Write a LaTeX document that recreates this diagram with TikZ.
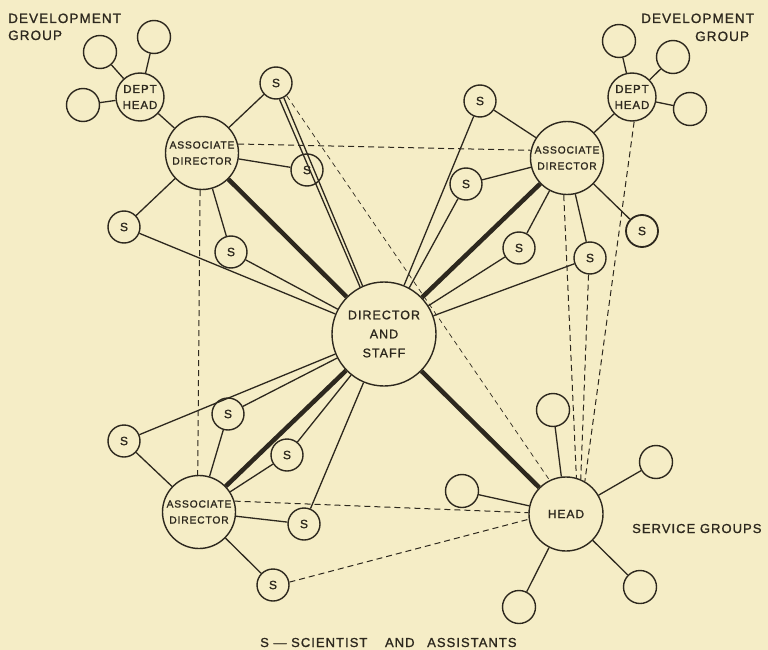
\documentclass[tikz,border=0pt]{standalone}
\usepackage{fontspec}
\setmainfont{Liberation Sans}
\newfontfamily\lab[LetterSpace=8,FakeBold=1.2]{Liberation Sans}
\definecolor{bg}{RGB}{245,237,198}
\definecolor{ink}{RGB}{45,40,30}
\begin{document}
\begin{tikzpicture}[x=1pt,y=-1pt,
  every node/.style={text=ink},
  circ/.style={circle,draw=ink,line width=1.4pt,inner sep=0pt,align=center},
  dirnode/.style={circ,minimum size=104pt,font=\lab\fontsize{12.5}{19}\selectfont},
  adnode/.style={circ,minimum size=73pt,font=\lab\fontsize{10.3}{16}\selectfont},
  hdnode/.style={circ,minimum size=74pt,font=\lab\fontsize{12}{14}\selectfont},
  dhnode/.style={circ,minimum size=48pt,font=\lab\fontsize{11.5}{16}\selectfont},
  snode/.style={circ,minimum size=32pt,font=\lab\fontsize{12}{14}\selectfont},
  emnode/.style={circ,minimum size=33pt},
  lbl/.style={font=\lab\fontsize{13.5}{16}\selectfont,inner sep=0pt},
  ln/.style={draw=ink,line width=1.3pt},
  thk/.style={draw=ink,line width=4.5pt},
  dsh/.style={draw=ink,line width=1pt,dash pattern=on 6pt off 4pt},
  tdsh/.style={draw=ink,line width=0.7pt,dash pattern=on 5pt off 4pt}
]
\fill[bg] (0,0) rectangle (768,650);
\useasboundingbox (0,0) rectangle (768,650);

% main nodes
\node[dirnode] (D) at (384,334) {DIRECTOR\\AND\\STAFF};
\node[adnode] (TL) at (202,153) {ASSOCIATE\\DIRECTOR};
\node[adnode] (TR) at (567,158) {ASSOCIATE\\DIRECTOR};
\node[adnode] (BL) at (199,512) {ASSOCIATE\\DIRECTOR};
\node[hdnode] (H) at (566,514) {HEAD};
\node[dhnode] (TLH) at (140,97) {DEPT\\HEAD};
\node[dhnode] (TRH) at (632,97) {DEPT\\HEAD};

% empty circles
\node[emnode] (e1) at (100,52) {};
\node[emnode] (e2) at (154,37) {};
\node[emnode] (e3) at (83,105) {};
\node[emnode] (f1) at (619,41) {};
\node[emnode] (f2) at (673,57) {};
\node[emnode] (f3) at (690,109) {};
\node[emnode] (g1) at (553,410) {};
\node[emnode] (g2) at (462,491) {};
\node[emnode] (g3) at (656,462) {};
\node[emnode] (g4) at (640,587) {};
\node[emnode] (g5) at (519,607) {};

% scientists
\node[snode] (s1) at (276,83) {S};
\node[snode] (s2) at (307,170) {S};
\node[snode] (s3) at (124,227) {S};
\node[snode] (s4) at (231,252) {S};
\node[snode] (t1) at (480,101) {S};
\node[snode] (t2) at (466,184) {S};
\node[snode] (t3) at (519,248) {S};
\node[snode] (t4) at (590,258) {S};
\node[snode,line width=1.8pt] (t5) at (642,231) {S};
\node[snode] (b1) at (124,441) {S};
\node[snode] (b2) at (228,414) {S};
\node[snode] (b3) at (287,455) {S};
\node[snode] (b4) at (304,524) {S};
\node[snode] (b5) at (273,585) {S};

% labels
\node[lbl,anchor=base west] (l1) at (8,23) {DEVELOPMENT};
\node[lbl,anchor=base west] (l2) at (8,40) {GROUP};
\node[lbl,anchor=base west] (l3) at (641,23) {DEVELOPMENT};
\node[lbl,anchor=base west] (l4) at (695,41) {GROUP};
\node[lbl,anchor=base west,font=\lab\fontsize{13}{16}\selectfont] (l5) at (632,533) {SERVICE GROUPS};
\node[lbl,anchor=base west,font=\lab\fontsize{13}{15}\selectfont] (l6) at (260,647)
  {S — SCIENTIST\hspace{13pt} AND\hspace{8pt} ASSISTANTS};

% thick lines
\draw[thk] (TL) -- (D);
\draw[thk] (TR) -- (D);
\draw[thk] (BL) -- (D);
\draw[thk] (H) -- (D);

% top-left group
\draw[ln] (TLH) -- (e1);
\draw[ln] (TLH) -- (e2);
\draw[ln] (TLH) -- (e3);
\draw[ln] (TL) -- (TLH);
\draw[ln] (TL) -- (s1);
\draw[ln] (TL) -- (s2);
\draw[ln] (TL) -- (s3);
\draw[ln] (TL) -- (s4);
\draw[ln] (s1.-78) -- (D.117);
\draw[ln] (s1.-62) -- (D.114);
\draw[ln] (s3) -- (D);
\draw[ln] (s4) -- (D);

% top-right group
\draw[ln] (TRH) -- (f1);
\draw[ln] (TRH) -- (f2);
\draw[ln] (TRH) -- (f3);
\draw[ln] (TR) -- (TRH);
\draw[ln] (TR) -- (t1);
\draw[ln] (TR) -- (t2);
\draw[ln] (TR) -- (t3);
\draw[ln] (TR) -- (t4);
\draw[ln] (TR) -- (t5);
\draw[ln] (t1) -- (D);
\draw[ln] (t2) -- (D);
\draw[ln] (t3) -- (D);
\draw[ln] (t4) -- (D);

% bottom-left group
\draw[ln] (BL) -- (b1);
\draw[ln] (BL) -- (b2);
\draw[ln] (BL) -- (b3);
\draw[ln] (BL) -- (b4);
\draw[ln] (BL) -- (b5);
\draw[ln] (b1) -- (D);
\draw[ln] (b2) -- (D);
\draw[ln] (b3) -- (D);
\draw[ln] (b4) -- (D);

% service groups
\draw[ln] (H) -- (g1);
\draw[ln] (H) -- (g2);
\draw[ln] (H) -- (g3);
\draw[ln] (H) -- (g4);
\draw[ln] (H) -- (g5);

% dashed links
\draw[dsh] (TL.14) -- (TR.168);
\draw[dsh] (TL.-93) -- (BL.92);
\draw[dsh] (TR.265) -- (H.74);
\draw[dsh] (t4.265) -- (H.67);
\draw[dsh] (TRH.-85) -- (H.60);
\draw[dsh] (BL.17) -- (H.178);
\draw[dsh] (b5.10) -- (H.188);
\draw[tdsh] (s1.-50) -- (H.116);
\end{tikzpicture}
\end{document}
